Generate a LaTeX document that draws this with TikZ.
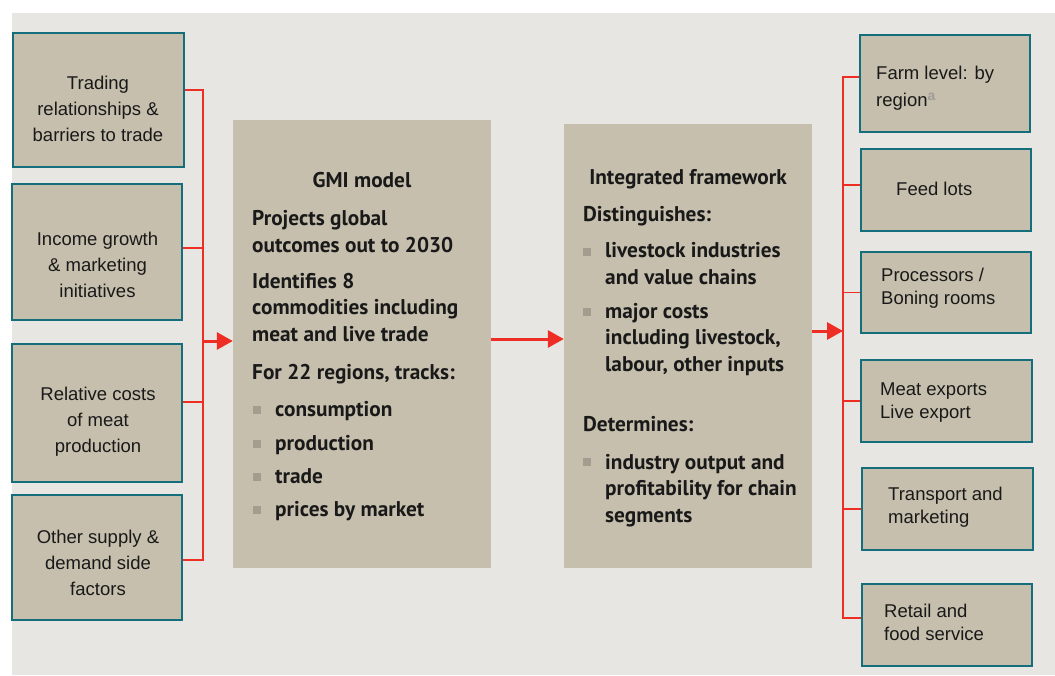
\documentclass[tikz,border=0pt]{standalone}
\usepackage{fontspec}
\setmainfont{Liberation Sans}
\newfontfamily\headfont{PT Sans}
\usetikzlibrary{arrows.meta}

\definecolor{panel}{RGB}{232,230,226}
\definecolor{boxfill}{RGB}{198,191,173}
\definecolor{boxedge}{RGB}{20,110,124}
\definecolor{linkred}{RGB}{238,45,36}
\definecolor{bulletgrey}{RGB}{163,157,144}
\definecolor{supgrey}{RGB}{160,156,150}
\definecolor{ink}{RGB}{25,25,25}

\tikzset{
	sidebox/.style={draw=boxedge, line width=1.8pt, fill=boxfill, inner sep=0pt},
	sidetext/.style={align=center, text=ink, font=\fontsize{18.5}{26}\selectfont, inner sep=0pt, anchor=base},
	outtext/.style={align=left, text=ink, font=\fontsize{18.5}{23}\selectfont, inner sep=0pt, anchor=base west},
	midbox/.style={fill=boxfill, inner sep=0pt},
	midtext/.style={align=left, text=ink, font=\headfont\bfseries\fontsize{21.3}{26.5}\selectfont, inner sep=0pt, anchor=base west},
	feed/.style={draw=linkred, line width=1.3pt},
	push/.style={draw=linkred, line width=3pt, -{Triangle[length=16pt,width=17pt]}},
}

\begin{document}
\begin{tikzpicture}[x=1pt, y=-1pt]
		\useasboundingbox (0,0) rectangle (1055,675);
		\fill[white] (0,0) rectangle (1055,675);
		\fill[panel] (12,13) rectangle (1055,675);

		% drivers (text nodes sit on their last baseline)
		\node[sidebox, minimum width=171pt, minimum height=134pt] (trade) at (98.5,100) {};
		\node[sidebox, minimum width=170pt, minimum height=136pt] (income) at (97,252) {};
		\node[sidebox, minimum width=170pt, minimum height=138pt] (costs) at (97,413) {};
		\node[sidebox, minimum width=170pt, minimum height=125pt] (other) at (97,557.5) {};

		\node[sidetext] (tradetext) at (98,141) {Trading\\relationships \&\\barriers to trade};
		\node[sidetext] (incometext) at (97.5,297) {Income growth\\\& marketing\\initiatives};
		\node[sidetext] (coststext) at (98,452) {Relative costs\\of meat\\production};
		\node[sidetext] (othertext) at (98,595) {Other supply \&\\demand side\\factors};

		% models
		\node[midbox, minimum width=258pt, minimum height=448pt] (gmi) at (362,344) {};
		\node[midbox, minimum width=248pt, minimum height=444pt] (frame) at (688,346) {};

		\node[midtext, anchor=base] (gmititle) at (362,187) {GMI model};
		\node[midtext] (gmiproj) at (252,252) {Projects global\\outcomes out to 2030};
		\node[midtext] (gmiident) at (252,341) {Identifies 8\\commodities including\\meat and live trade};
		\node[midtext] (gmitrack) at (252,379) {For 22 regions, tracks:};
		\node[midtext] (gmicons) at (275,416) {consumption};
		\node[midtext] (gmiprod) at (275,450) {production};
		\node[midtext] (gmitrade) at (275,483) {trade};
		\node[midtext] (gmiprice) at (275,516) {prices by market};
		\fill[bulletgrey] (253,406) rectangle (261,414);
		\fill[bulletgrey] (253,440) rectangle (261,448);
		\fill[bulletgrey] (253,473) rectangle (261,481);
		\fill[bulletgrey] (253,506) rectangle (261,514);

		\node[midtext, anchor=base] (frametitle) at (688,184) {Integrated framework};
		\node[midtext] (framedist) at (583,221) {Distinguishes:};
		\node[midtext] (framechain) at (605,284) {livestock industries\\and value chains};
		\node[midtext] (framecost) at (605,371) {major costs\\including livestock,\\labour, other inputs};
		\node[midtext] (framedet) at (583,431) {Determines:};
		\node[midtext] (frameout) at (605,522) {industry output and\\profitability for chain\\segments};
		\fill[bulletgrey] (583,248) rectangle (591,256);
		\fill[bulletgrey] (583,308) rectangle (591,316);
		\fill[bulletgrey] (583,458) rectangle (591,466);

		% chain segments
		\node[sidebox, minimum width=170pt, minimum height=97pt] (farm) at (945,83.5) {};
		\node[sidebox, minimum width=170pt, minimum height=82pt] (feedlot) at (946,190) {};
		\node[sidebox, minimum width=170pt, minimum height=81pt] (proc) at (946,292.5) {};
		\node[sidebox, minimum width=171pt, minimum height=82pt] (export) at (946.5,401) {};
		\node[sidebox, minimum width=171pt, minimum height=82pt] (transport) at (947.5,509) {};
		\node[sidebox, minimum width=170pt, minimum height=82pt] (retail) at (947,625) {};

		\node[outtext] (farmtext) at (876,106.5) {Farm level: by\\[4pt]region\textsuperscript{\textcolor{supgrey}{\fontsize{14}{14}\selectfont\textbf{a}}}};
		\node[outtext] (feedlottext) at (896,195) {Feed lots};
		\node[outtext] (proctext) at (881,304) {Processors /\\Boning rooms};
		\node[outtext] (exporttext) at (880,418) {Meat exports\\Live export};
		\node[outtext] (transporttext) at (888,523) {Transport and\\marketing};
		\node[outtext] (retailtext) at (884,640) {Retail and\\food service};

		% links
		\coordinate (inbus) at (203,341);
		\coordinate (outbus) at (843,331);

		\draw[feed] ([yshift=10pt]trade.east) -| (inbus);
		\draw[feed] ([yshift=4pt]income.east) -| (inbus);
		\draw[feed] ([yshift=11pt]costs.east) -| (inbus);
		\draw[feed] ([yshift=-2.5pt]other.east) -| (inbus);
		\draw[push] (inbus) -- (gmi.west |- inbus);

		\draw[push] ([yshift=5pt]gmi.east) -- ([yshift=5pt]gmi.east -| frame.west);
		\draw[push] ([yshift=15pt]frame.east) -- (outbus);

		\draw[feed] (outbus) |- ([yshift=6.5pt]farm.west);
		\draw[feed] (outbus) |- ([yshift=5pt]feedlot.west);
		\draw[feed] (outbus) |- (proc.west);
		\draw[feed] (outbus) |- (export.west);
		\draw[feed] (outbus) |- (transport.west);
		\draw[feed] (outbus) |- ([yshift=7pt]retail.west);
	\end{tikzpicture}
\end{document}
